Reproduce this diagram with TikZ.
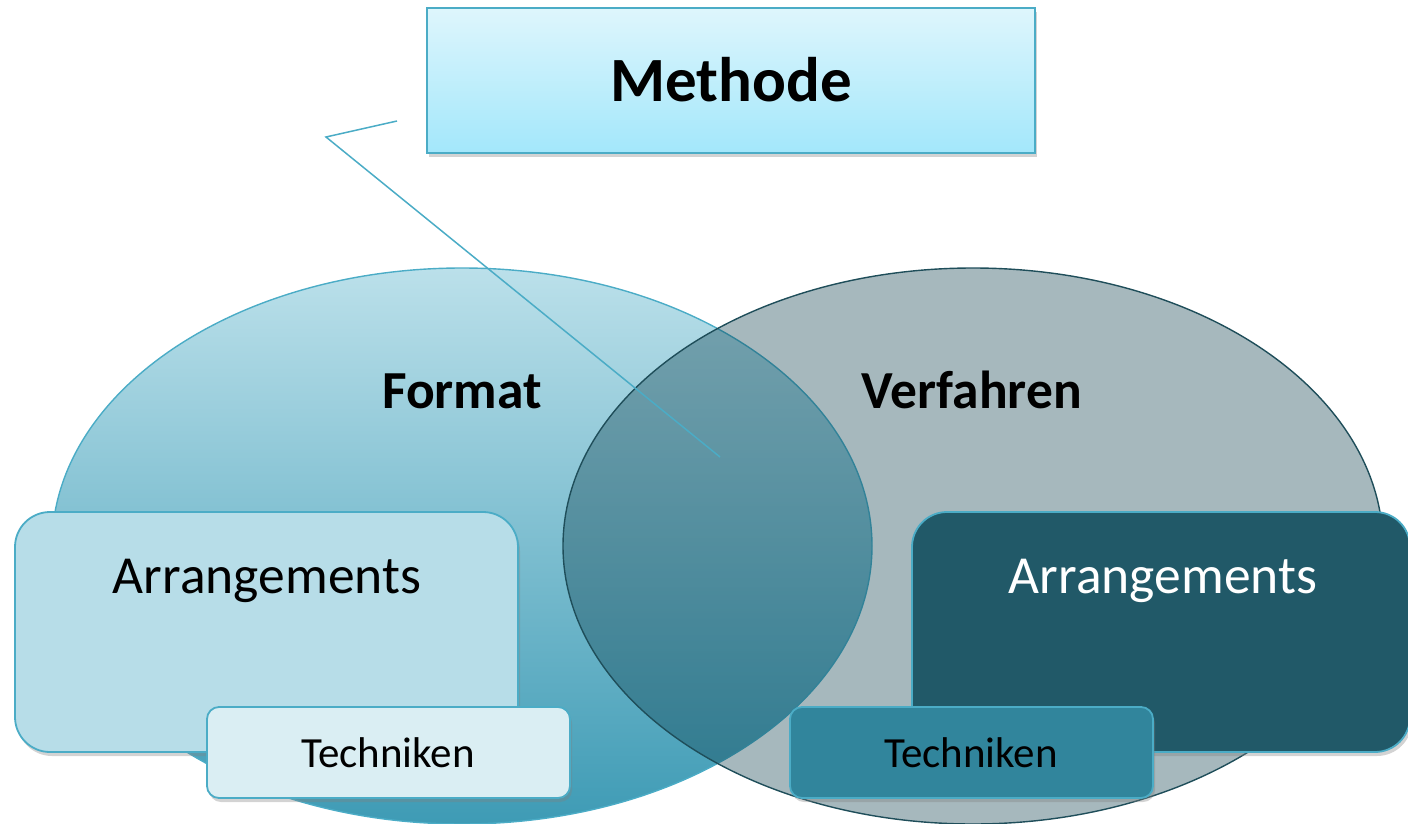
\documentclass[tikz,border=0pt]{standalone}
\usepackage{fontspec}
\setmainfont{Carlito}
\usetikzlibrary{shapes.geometric,shadows}
\definecolor{accent}{HTML}{4BACC6}
\definecolor{fmttop}{HTML}{BBE0EA}
\definecolor{fmtmid}{HTML}{8ECADB}
\definecolor{fmtbot}{HTML}{3E9BB5}
\definecolor{verfedge}{HTML}{1F4E5A}
\definecolor{verffill}{HTML}{083A48}
\definecolor{methtop}{HTML}{DEF6FC}
\definecolor{methbot}{HTML}{A3E7FB}
\definecolor{arrlfill}{HTML}{B7DDE8}
\definecolor{techlfill}{HTML}{DAEEF3}
\definecolor{arrrfill}{HTML}{215968}
\definecolor{techrfill}{HTML}{31859C}
\tikzset{
  venn/.style={ellipse, minimum width=820pt, minimum height=556pt, inner sep=0pt, line width=1.4pt},
  boxshadow/.style={drop shadow={opacity=0.35, shadow xshift=2pt, shadow yshift=-4pt}},
  bigbox/.style={rectangle, rounded corners=35pt, minimum width=503pt, minimum height=240pt, inner sep=0pt, draw=accent, line width=1.8pt, boxshadow},
  smallbox/.style={rectangle, rounded corners=12pt, minimum width=363pt, minimum height=91pt, inner sep=0pt, draw=accent, line width=1.8pt, boxshadow},
  headtext/.style={font=\bfseries\fontsize{53.5}{60}\selectfont, inner sep=0pt, anchor=base},
  arrtext/.style={font=\fontsize{53.5}{60}\selectfont, inner sep=0pt, anchor=base},
  techtext/.style={font=\fontsize{43}{50}\selectfont, inner sep=0pt, anchor=base},
  callout/.style={draw=accent, line width=1.5pt}
}
\begin{document}
\begin{tikzpicture}[x=1pt,y=-1pt]
\useasboundingbox (0,0) rectangle (1408,824);
% ellipses
\node[venn, draw=accent, top color=fmttop, middle color=fmtmid, bottom color=fmtbot] (format) at (462,546) {};
\node[venn, draw=verfedge, fill=verffill, fill opacity=0.36, draw opacity=1] (verfahren) at (973,546) {};
\node[headtext] (formatlabel) at (462,408) {Format};
\node[headtext] (verfahrenlabel) at (972,408) {Verfahren};
% Methode box
\node[rectangle, minimum width=608pt, minimum height=145pt, inner sep=0pt, draw=accent, line width=1.8pt, top color=methtop, bottom color=methbot, boxshadow] (methode) at (731,80.5) {};
\node[font=\bfseries\fontsize{63}{70}\selectfont, inner sep=0pt, anchor=base] (methodelabel) at (731,102) {Methode};
% callout line
\coordinate (calloutstart) at (397,121);
\coordinate (calloutknee) at (326,137);
\coordinate (callouttip) at (720,457);
\draw[callout] (calloutstart) -- (calloutknee) -- (callouttip);
% left boxes
\node[bigbox, fill=arrlfill] (arrleft) at (266.5,632) {};
\node[arrtext] (arrlefttext) at (267,593) {Arrangements};
\node[smallbox, fill=techlfill] (techleft) at (388.5,752.5) {};
\node[techtext] (techlefttext) at (388,767) {Techniken};
% right boxes
\node[bigbox, fill=arrrfill, minimum width=498pt] (arrright) at (1161,632) {};
\node[arrtext, text=white] (arrrighttext) at (1163,593) {Arrangements};
\node[smallbox, fill=techrfill] (techright) at (971.5,752.5) {};
\node[techtext] (techrighttext) at (971,767) {Techniken};
\end{tikzpicture}
\end{document}
